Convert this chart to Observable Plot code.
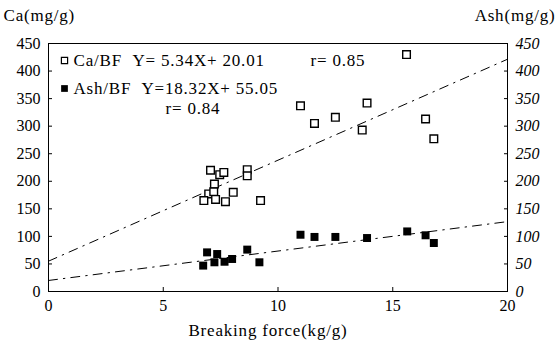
<!DOCTYPE html>
<html><head><meta charset="utf-8">
<script src="https://cdn.jsdelivr.net/npm/d3@7"></script>
<script src="https://cdn.jsdelivr.net/npm/@observablehq/plot@0.6"></script>
<style>
body{margin:0;background:#fff}
svg, svg text{font-family:"Liberation Serif","Times New Roman",serif !important}
svg g[aria-label="text"] text{letter-spacing:0.8px}
</style>
</head><body><div id="chart"></div>
<script>
// Ca (open squares)
const caX = [7.06,7.46,7.64,8.66,8.66,7.23,6.98,7.20,6.77,7.28,7.71,8.05,9.24,10.98,11.59,12.50,13.67,13.88,15.60,16.43,16.79];
const caY = [220,212,216,221,210,195,177,181,165,167,163,180,165,337,305,316,293,342,430,313,277];
// Ash (filled squares)
const ashX = [6.91,6.74,7.35,7.23,7.67,8.00,8.66,9.19,10.98,11.59,12.50,13.88,15.63,16.43,16.79];
const ashY = [71,47,68,53,54,59,76,53,103,99,99,97,109,102,88];
// regression lines as printed
const fitName = ["upper","lower"];
const fitSlope = [18.32, 5.34];
const fitIntercept = [55.05, 20.01];
const fitXRange = [0, 20];
// ticks
const yTicks = [0,50,100,150,200,250,300,350,400,450];
const xTicks = [0,5,10,15,20];
// texts
const yLeftTitle = "Ca(mg/g)";
const yRightTitle = "Ash(mg/g)";
const xTitle = "Breaking force(kg/g)";
const legCaName = "Ca/BF", legCaEq = "Y= 5.34X+ 20.01", legCaR = "r= 0.85";
const legAshName = "Ash/BF", legAshEq = "Y=18.32X+ 55.05", legAshR = "r= 0.84";

const FF = '"Liberation Serif", "Times New Roman", serif';
const ca = caX.map((x,i)=>({x, y: caY[i]}));
const ash = ashX.map((x,i)=>({x, y: ashY[i]}));
const fits = fitName.flatMap((n,i)=>fitXRange.map(x=>({fit:n, x, y: fitIntercept[i] + fitSlope[i]*x})));

const T = (s, o) => Plot.text([s], {text: d=>d, frameAnchor: "top-left", textAnchor: "start", lineAnchor: "middle", fill: "black", fontSize: 17, fontFamily: FF, ...o});

const chart = Plot.plot({
  width: 557, height: 344,
  marginLeft: 48, marginRight: 50, marginTop: 43, marginBottom: 53,
  x: {domain: [0,20]},
  y: {domain: [0,450]},
  style: {fontFamily: FF, fontSize: "16px", color: "black", background: "white", overflow: "visible"},
  marks: [
    Plot.frame({stroke: "black", strokeWidth: 1}),
    Plot.axisY(yTicks, {anchor: "left", tickSize: -4, tickPadding: 12, label: null, fontSize: 16, fontFamily: FF}),
    Plot.axisY(yTicks, {anchor: "right", tickSize: -4, tickPadding: 12, label: null, fontSize: 16, fontFamily: FF, fontStyle: "italic"}),
    Plot.axisX(xTicks, {anchor: "bottom", tickSize: -4, tickPadding: 12, label: null, fontSize: 16, fontFamily: FF}),
    Plot.line(fits, {x: "x", y: "y", z: "fit", stroke: "black", strokeWidth: 1, strokeDasharray: "9,6,1.5,6"}),
    Plot.dot(ca, {x: "x", y: "y", symbol: "square", r: 4.3, stroke: "black", strokeWidth: 1.4, fill: "white"}),
    Plot.dot(ash, {x: "x", y: "y", symbol: "square", r: 4.5, fill: "black", stroke: "none"}),
    // legend
    Plot.dot([0], {frameAnchor: "top-left", dx: 16, dy: 17, symbol: "square", r: 3.5, stroke: "black", strokeWidth: 1.2, fill: "white"}),
    Plot.dot([0], {frameAnchor: "top-left", dx: 16, dy: 45, symbol: "square", r: 3.8, fill: "black", stroke: "none"}),
    T(legCaName, {dx: 25, dy: 17}),
    T(legCaEq, {dx: 84, dy: 17}),
    T(legCaR, {dx: 262, dy: 17}),
    T(legAshName, {dx: 25, dy: 45}),
    T(legAshEq, {dx: 93, dy: 45}),
    T(legAshR, {dx: 117, dy: 65}),
    // axis titles
    T(yLeftTitle, {dx: -45, dy: -28}),
    T(yRightTitle, {frameAnchor: "top-right", textAnchor: "end", dx: 48, dy: -28}),
    T(xTitle, {frameAnchor: "bottom", textAnchor: "middle", dx: -10, dy: 39})
  ]
});
document.getElementById("chart").appendChild(chart);
</script>
</body></html>
